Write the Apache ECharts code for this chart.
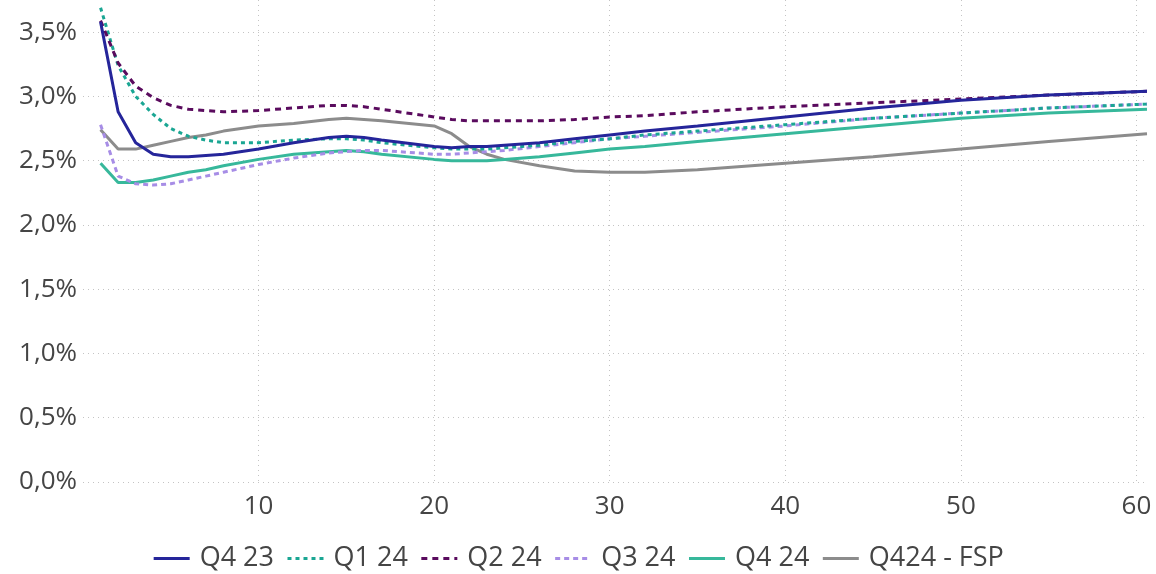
<!DOCTYPE html>
<html>
<head>
<meta charset="utf-8">
<script src="https://cdn.jsdelivr.net/npm/echarts@6/dist/echarts.min.js"></script>
<style>
  html, body { margin: 0; padding: 0; background: #fff; }
  #chart { width: 1156px; height: 574px; }
</style>
</head>
<body>
<div id="chart"></div>
<script>
// maturity points (x) shared by all curves
var xValues = [1, 2, 3, 4, 5, 6, 7, 8, 10, 12, 14, 15, 16, 17, 20, 21, 22, 23, 24, 26, 28, 30, 32, 35, 40, 45, 50, 55, 60.6];

// curves, in percent
var q423 = [3.58, 2.88, 2.64, 2.55, 2.53, 2.53, 2.54, 2.55, 2.59, 2.64, 2.68, 2.69, 2.68, 2.66, 2.61, 2.60, 2.61, 2.61, 2.62, 2.64, 2.67, 2.70, 2.73, 2.77, 2.84, 2.91, 2.97, 3.01, 3.04];
var q124 = [3.69, 3.24, 3.00, 2.86, 2.75, 2.69, 2.66, 2.64, 2.64, 2.66, 2.67, 2.67, 2.66, 2.64, 2.60, 2.59, 2.59, 2.59, 2.60, 2.62, 2.65, 2.67, 2.70, 2.73, 2.78, 2.83, 2.87, 2.91, 2.94];
var q224 = [3.59, 3.26, 3.08, 2.99, 2.93, 2.90, 2.89, 2.88, 2.89, 2.91, 2.93, 2.93, 2.92, 2.90, 2.84, 2.82, 2.81, 2.81, 2.81, 2.81, 2.82, 2.84, 2.85, 2.88, 2.92, 2.95, 2.98, 3.01, 3.04];
var q324 = [2.78, 2.38, 2.32, 2.31, 2.32, 2.35, 2.38, 2.41, 2.47, 2.52, 2.56, 2.57, 2.58, 2.58, 2.55, 2.55, 2.56, 2.57, 2.58, 2.61, 2.64, 2.67, 2.69, 2.72, 2.77, 2.83, 2.87, 2.91, 2.94];
var q424 = [2.48, 2.33, 2.33, 2.35, 2.38, 2.41, 2.43, 2.46, 2.51, 2.55, 2.57, 2.58, 2.57, 2.55, 2.51, 2.50, 2.50, 2.50, 2.51, 2.53, 2.56, 2.59, 2.61, 2.65, 2.71, 2.77, 2.83, 2.87, 2.90];
var fsp  = [2.74, 2.59, 2.59, 2.62, 2.65, 2.68, 2.70, 2.73, 2.77, 2.79, 2.82, 2.83, 2.82, 2.81, 2.77, 2.71, 2.61, 2.55, 2.51, 2.46, 2.42, 2.41, 2.41, 2.43, 2.48, 2.53, 2.59, 2.65, 2.71];

var seriesNames = ['Q4 23', 'Q1 24', 'Q2 24', 'Q3 24', 'Q4 24', 'Q424 - FSP'];

var FONT = "'Segoe UI', 'Open Sans', sans-serif";
var TEXT = '#454545';

var pairs = function (ys) {
	return ys.map(function (y, i) { return [xValues[i], y]; });
};

var makeLine = function (name, ys, color, dash) {
	return {
		name: name,
		type: 'line',
		data: pairs(ys),
		symbol: 'none',
		smooth: false,
		lineStyle: { color: color, width: 3, type: dash || 'solid' },
		itemStyle: { color: color }
	};
};

var chart = echarts.init(document.getElementById('chart'), null, { renderer: 'canvas' });

chart.setOption({
	backgroundColor: '#ffffff',
	animation: false,
	textStyle: { fontFamily: FONT },
	grid: { left: 83, right: 9, top: 0, bottom: 92, containLabel: false },
	legend: {
		data: seriesNames,
		bottom: -3,
		left: 'center',
		itemWidth: 36,
		itemHeight: 14,
		itemGap: 12,
		// hide the circle that ECharts puts on a line icon
		itemStyle: { opacity: 0 },
		lineStyle: { width: 3 },
		textStyle: { fontFamily: FONT, fontSize: 27, color: TEXT, padding: [0, 0, 0, 5] }
	},
	xAxis: {
		type: 'value',
		min: 0,
		max: 60.6,
		interval: 10,
		axisLine: { show: false },
		axisTick: { show: false },
		axisLabel: {
			fontFamily: FONT, fontSize: 26, color: TEXT, margin: 12,
			showMinLabel: false,
			formatter: function (v) { return (v > 0 && v % 10 === 0) ? String(v) : ''; }
		},
		splitLine: {
			show: true, showMinLine: false, showMaxLine: false,
			lineStyle: { color: '#c4c4c4', type: [1, 4], width: 1 }
		}
	},
	yAxis: {
		type: 'value',
		min: 0,
		max: 3.75,
		interval: 0.5,
		axisLine: { show: false },
		axisTick: { show: false },
		axisLabel: {
			fontFamily: FONT, fontSize: 26, color: TEXT, margin: 6,
			formatter: function (v) {
				if (Math.abs(v * 2 - Math.round(v * 2)) > 1e-6) return '';
				return v.toFixed(1).replace('.', ',') + '%';
			}
		},
		splitLine: {
			show: true, showMaxLine: false,
			lineStyle: { color: '#c4c4c4', type: [1, 4], width: 1 }
		}
	},
	series: [
		makeLine('Q424 - FSP', fsp, '#8c8c8c'),
		makeLine('Q4 24', q424, '#37b89b'),
		makeLine('Q3 24', q324, '#a78de6', [5, 4]),
		makeLine('Q1 24', q124, '#1aa693', [4, 4]),
		makeLine('Q2 24', q224, '#5a0b5e', [6, 5]),
		makeLine('Q4 23', q423, '#25259a')
	]
});
</script>
</body>
</html>
